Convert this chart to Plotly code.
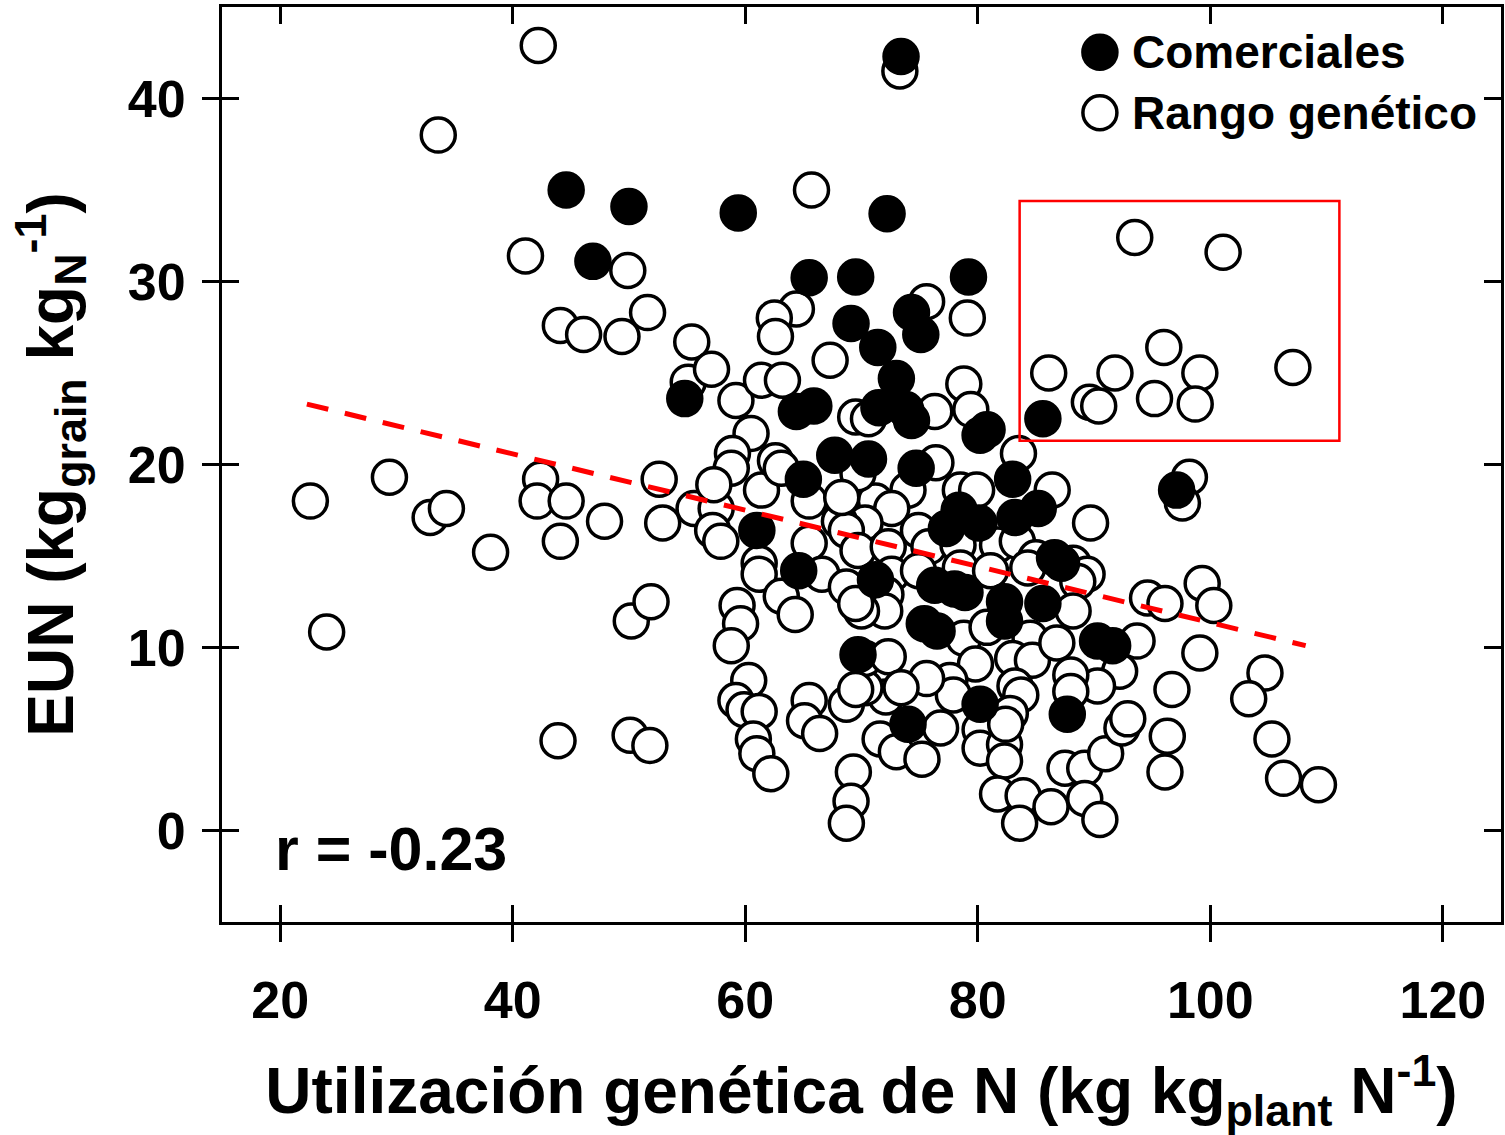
import plotly.graph_objects as go

# ---- data ----
com_x = [73.4, 44.6, 50.0, 46.9, 59.4, 72.2, 65.5, 69.5, 79.2, 69.1, 74.3, 75.1, 71.4, 73.0,
         54.8, 64.4, 65.9, 71.5, 73.8, 74.3, 80.2, 80.8, 85.6, 67.7, 70.6, 74.7, 65.0, 83.0,
         97.1, 61.0, 78.4, 77.3, 80.1, 83.2, 85.2, 64.6, 71.2, 76.3, 78.0, 78.9, 86.6, 87.2,
         75.4, 76.5, 82.3, 82.3, 85.6, 69.7, 90.3, 91.6, 80.2, 87.7, 74.0]
com_y = [42.3, 35.0, 34.1, 31.1, 33.75, 33.7, 30.2, 30.25, 30.25, 27.7, 28.3, 27.1, 26.4, 24.7,
         23.6, 22.9, 23.2, 23.1, 23.0, 22.4, 21.6, 21.9, 22.5, 20.5, 20.3, 19.8, 19.2, 19.2,
         18.6, 16.4, 17.5, 16.5, 16.8, 17.1, 17.6, 14.2, 13.7, 13.4, 13.2, 13.0, 14.9, 14.6,
         11.3, 10.9, 12.5, 11.45, 12.4, 9.6, 10.35, 10.1, 6.9, 6.35, 5.8]

ran_x = [22.6, 24.0, 29.4, 33.6, 32.9, 34.3, 38.1, 42.2, 41.1, 44.1, 46.1, 42.4, 42.1, 44.6,
         44.1, 43.9, 47.9, 49.4, 49.9, 51.6, 50.2, 51.9, 50.1, 51.8, 52.6, 52.9,
         65.7, 73.3, 75.6, 79.1, 64.4, 62.5, 62.6, 55.4, 55.1, 57.1, 59.2, 61.4, 63.2, 67.3,
         60.5, 58.9, 58.8, 61.4, 62.6, 63.1, 69.5, 70.6, 78.8, 79.4, 76.3, 76.4, 83.5, 86.4,
         89.7, 74.0, 71.2, 69.7, 78.5, 79.9, 72.6, 74.9, 70.3, 55.6, 57.5, 57.3, 57.2, 57.9,
         65.5, 68.1, 68.7, 65.5, 68.3, 61.2,
         93.5, 101.1, 86.1, 91.8, 96.0, 99.1, 107.1, 89.6, 90.4, 95.2, 98.7,
         69.7, 72.3, 75.8, 78.3, 81.7, 83.4, 85.0, 88.2, 72.6, 74.9, 72.1, 72.0, 69.7, 70.0,
         78.5, 81.1, 84.3, 89.4, 88.6, 78.8, 79.8, 80.8, 84.5, 83.0, 84.7, 86.8, 88.2, 92.2,
         90.3, 88.0, 88.0, 83.2, 83.7, 77.6, 77.9, 75.6, 72.1, 70.3, 70.3, 72.3, 76.8, 71.6,
         73.0, 75.2, 80.2, 80.2, 82.3, 82.3, 81.7, 83.9, 83.6, 86.3, 87.5, 89.2, 91.0, 89.2,
         90.5, 92.4, 92.9, 82.8, 82.4, 73.4,
         59.3, 59.6, 58.8, 61.2, 63.1, 64.3, 66.6, 68.7, 69.5, 60.3, 59.2, 59.9, 61.2, 60.7,
         61.0, 62.2, 65.5, 65.1, 66.4, 68.7, 69.5, 69.3, 69.1, 68.7,
         98.2, 97.6, 94.6, 96.1, 99.3, 100.3, 99.1, 96.7, 104.7, 103.3, 96.3, 96.1, 105.3,
         106.3, 109.3, 93.7]
ran_y = [18.0, 10.85, 19.3, 38.0, 17.1, 17.6, 15.2, 42.9, 31.4, 27.6, 27.1, 19.2, 18.0, 18.0,
         15.8, 4.9, 16.9, 27.0, 30.6, 28.3, 11.45, 12.5, 5.2, 4.65, 19.2, 16.8,
         35.0, 41.5, 28.9, 28.0, 28.5, 28.0, 27.0, 26.7, 24.5, 25.2, 23.5, 24.6, 24.6, 25.7,
         21.7, 20.6, 19.8, 18.6, 20.2, 19.8, 22.6, 22.5, 24.4, 23.0, 22.9, 20.1, 20.6, 18.6,
         16.8, 18.6, 18.0, 19.5, 18.6, 18.6, 17.6, 16.4, 16.8, 17.6, 17.6, 18.9, 16.4, 15.8,
         15.7, 16.9, 16.4, 18.0, 18.2, 14.6,
         32.4, 31.6, 25.0, 25.0, 26.4, 25.0, 25.3, 23.4, 23.2, 23.6, 23.3,
         15.3, 15.5, 15.5, 15.6, 15.6, 15.8, 14.9, 14.6, 14.0, 14.2, 12.9, 12.0, 12.9, 12.0,
         14.35, 14.2, 14.35, 14.0, 13.6, 10.5, 9.1, 11.1, 10.5, 9.4, 9.3, 10.25, 12.0, 8.7,
         7.9, 8.5, 7.6, 7.9, 7.4, 8.2, 7.4, 8.3, 7.3, 7.8, 9.4, 9.5, 5.6, 5.0,
         4.3, 3.9, 5.5, 4.5, 4.7, 3.8, 2.0, 1.9, 0.4, 1.3, 3.4, 3.4, 4.2, 1.75,
         0.6, 5.6, 6.1, 6.4, 5.8, 7.8,
         12.3, 11.3, 10.1, 14.0, 12.8, 11.8, 14.0, 13.3, 12.4, 8.2, 7.1, 6.6, 6.5, 5.0,
         4.2, 3.1, 7.1, 6.0, 5.3, 6.9, 7.7, 3.2, 1.6, 0.4,
         19.3, 17.9, 12.7, 12.4, 13.5, 12.3, 9.7, 7.7, 8.6, 7.2, 5.15, 3.2, 5.0,
         2.85, 2.5, 10.35]

trend_x = [22.3, 108.2]
trend_y = [23.3, 10.1]

box_x = [83.6, 111.1]
box_y = [21.3, 34.4]

x_ticks = [20, 40, 60, 80, 100, 120]
y_ticks = [0, 10, 20, 30, 40]
x_range = [15, 125]
y_range = [-5, 45]

series_names = ["Comerciales", "Rango genético"]
r_label = "r = -0.23"

FONT = "Liberation Sans, Arial, sans-serif"

fig = go.Figure()

fig.add_trace(go.Scatter(
    x=ran_x, y=ran_y, mode="markers", name=series_names[1], showlegend=False,
    marker=dict(size=34, color="white", line=dict(color="black", width=3.5)),
))
fig.add_trace(go.Scatter(
    x=com_x, y=com_y, mode="markers", name=series_names[0], showlegend=False,
    marker=dict(size=34, color="black", line=dict(color="black", width=3.5)),
))
fig.add_trace(go.Scatter(
    x=trend_x, y=trend_y, mode="lines", xaxis="x2", yaxis="y2", showlegend=False,
    line=dict(color="red", width=5, dash="22px,17px"), hoverinfo="skip",
))

tickfont = dict(family=FONT, size=52, color="black", weight="bold")
common = dict(showgrid=False, zeroline=False, showline=True, linecolor="black",
              linewidth=3, tickcolor="black", tickwidth=3, ticklen=17)

fig.update_layout(
    width=1505, height=1135,
    margin=dict(l=222, r=1, t=7, b=213),
    paper_bgcolor="white", plot_bgcolor="white",
    font=dict(family=FONT, color="black"),
    xaxis=dict(range=x_range, tickvals=x_ticks, ticks="outside", mirror=True,
               tickfont=tickfont, ticklabelstandoff=14,
               title=dict(text="Utilización genética de N (kg kg<sub>plant</sub> N<sup>-1</sup>)",
                          font=dict(family=FONT, size=64, weight="bold", color="black"),
                          standoff=40),
               **common),
    yaxis=dict(range=y_range, tickvals=y_ticks, ticks="outside", mirror=True,
               tickfont=tickfont, ticklabelstandoff=6,
               title=dict(text="EUN (kg<sub>grain</sub> kg<sub>N</sub><sup>-1</sup>)",
                          font=dict(family=FONT, size=64, weight="bold", color="black"),
                          standoff=34),
               **common),
    xaxis2=dict(range=x_range, tickvals=x_ticks, ticks="inside", mirror="ticks",
                overlaying="x", anchor="y2", side="bottom", showticklabels=False,
                **common),
    yaxis2=dict(range=y_range, tickvals=y_ticks, ticks="inside", mirror="ticks",
                overlaying="y", anchor="x2", side="left", showticklabels=False,
                **common),
)

# red highlight box
fig.add_shape(type="rect", xref="x", yref="y", x0=box_x[0], x1=box_x[1],
              y0=box_y[0], y1=box_y[1], line=dict(color="red", width=2.5),
              fillcolor="rgba(0,0,0,0)", layer="above")

# correlation label
fig.add_annotation(x=19.4, y=-1.0, xref="x", yref="y", text=r_label, showarrow=False,
                   xanchor="left", yanchor="middle",
                   font=dict(family=FONT, size=61, weight="bold", color="black"))

# legend (drawn manually so the symbols keep the plotted marker size)
leg_x = 0.6864
leg_rows = [0.9505, 0.8845]
for i, (row, fill) in enumerate(zip(leg_rows, ["black", "white"])):
    fig.add_shape(type="circle", xref="paper", yref="paper",
                  xsizemode="pixel", ysizemode="pixel",
                  xanchor=leg_x, yanchor=row, x0=-17, x1=17, y0=-17, y1=17,
                  fillcolor=fill, line=dict(color="black", width=3.5), layer="above")
    fig.add_annotation(x=leg_x, y=row, xref="paper", yref="paper", xshift=30,
                       text=series_names[i], showarrow=False,
                       xanchor="left", yanchor="middle",
                       font=dict(family=FONT, size=46, weight="bold", color="black"))

fig.write_html("out.html")
